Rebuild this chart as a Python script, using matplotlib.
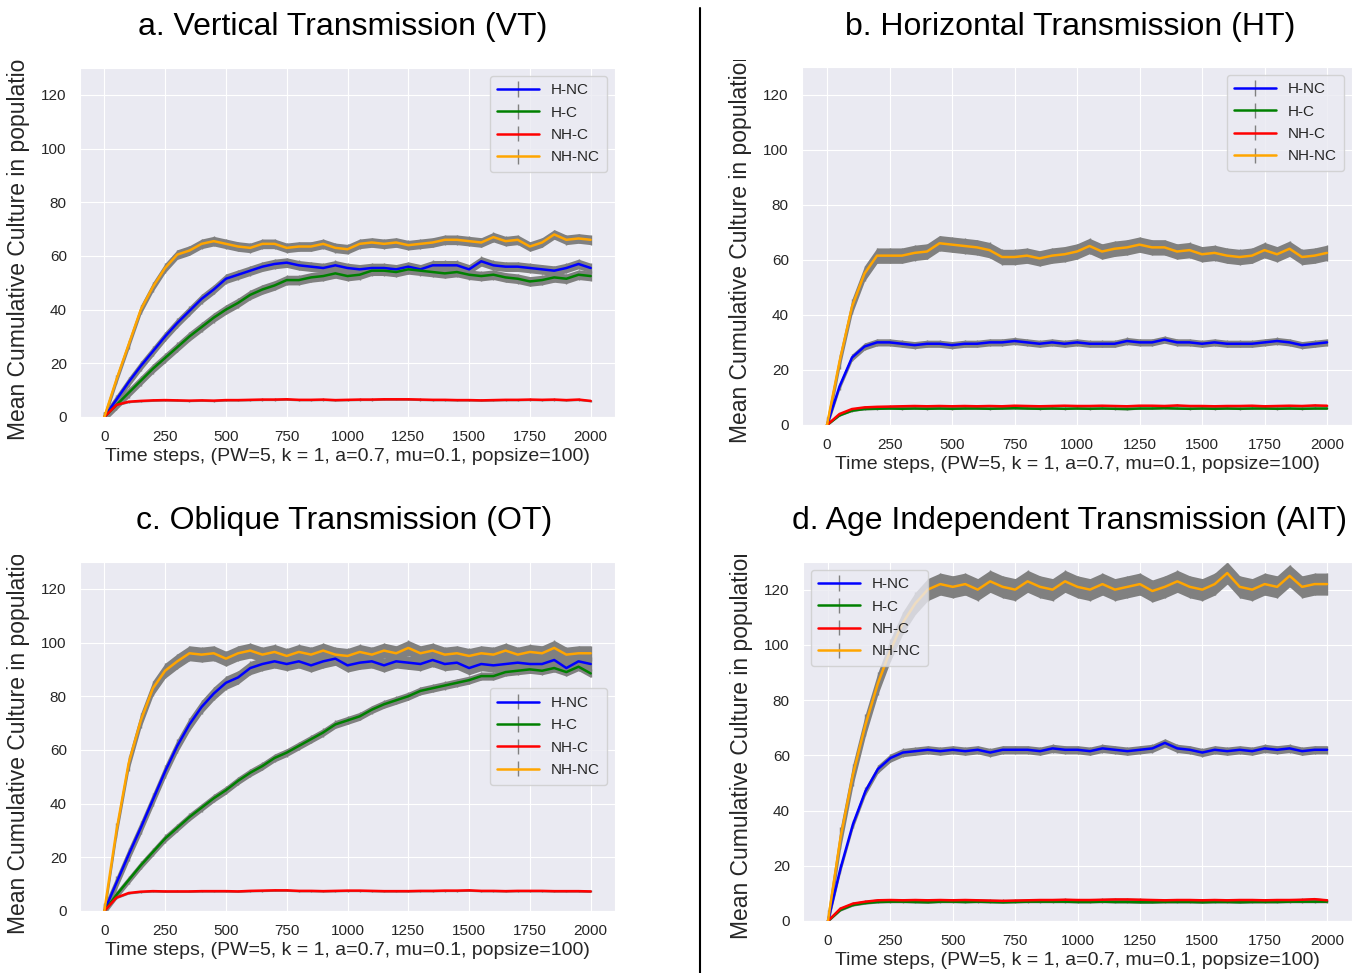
import numpy as np
import matplotlib.pyplot as plt
import seaborn as sns
from matplotlib.lines import Line2D
from matplotlib.transforms import Bbox, TransformedBbox

sns.set_style("darkgrid")
plt.rcParams["font.family"] = ["Liberation Sans", "DejaVu Sans"]

# ---- data (one value every 50 time steps) --------------------------------
STEPS = np.arange(0, 2001, 50)
SERIES = ["H-NC", "H-C", "NH-C", "NH-NC"]
COLORS = ["blue", "green", "red", "orange"]
XLABEL = "Time steps, (PW=5, k = 1, a=0.7, mu=0.1, popsize=100)"
YLABEL = "Mean Cumulative Culture in population"

# a. vertical transmission
vt_hnc = [0, 6.5, 13, 19, 24.5, 30, 35, 39.5, 44, 47.5, 51.5,
          53, 54.5, 56, 57, 57.5, 56.5, 56, 55.5, 56.5, 55.5,
          55, 55.5, 55.5, 55, 56, 55, 56.5, 56.5, 56.5, 55,
          58, 56.5, 56, 56, 55.5, 55, 54.5, 55.5, 57, 55.5]
vt_hc = [0, 4.5, 9, 13.5, 18, 22, 26, 30, 33.5, 37, 40,
         42.5, 45.5, 47.5, 49, 51, 51, 52, 52.5, 53.5, 52.5,
         53, 54.5, 54.5, 54, 55, 54.5, 54, 53.5, 54, 53,
         52.5, 53, 52, 51.5, 50.5, 51, 52, 51.5, 53, 52.5]
vt_nhc = [0, 4.5, 5.7, 6.0, 6.2, 6.3, 6.2, 6.1, 6.2, 6.1, 6.3,
          6.3, 6.4, 6.5, 6.5, 6.6, 6.4, 6.4, 6.5, 6.3, 6.4,
          6.5, 6.5, 6.6, 6.6, 6.6, 6.5, 6.4, 6.4, 6.3, 6.3,
          6.2, 6.3, 6.4, 6.4, 6.5, 6.4, 6.5, 6.3, 6.5, 6.0]
vt_nhnc = [0, 14, 27, 40, 48.5, 55.5, 60.5, 62, 64.5, 65.5, 64.5,
           63.5, 63, 64.5, 64.5, 63, 63.5, 63.5, 64.5, 63, 62.5,
           64.5, 65, 64.5, 65, 64, 64.5, 65, 66, 66, 65.5,
           65, 67, 65.5, 66, 63.5, 65, 68, 66, 66.5, 66]
vt_err = [1.8, 1.8, 0.4, 1.8]

# b. horizontal transmission
ht_hnc = [0, 14, 24.5, 28.5, 30, 30, 29.5, 29, 29.5, 29.5, 29,
          29.5, 29.5, 30, 30, 30.5, 30, 29.5, 30, 29.5, 30,
          29.5, 29.5, 29.5, 30.5, 30, 30, 31, 30, 30, 29.5,
          30, 29.5, 29.5, 29.5, 30, 30.5, 30, 29, 29.5, 30]
ht_hc = [0, 3.5, 5.2, 5.8, 5.9, 6.0, 5.9, 6.0, 5.9, 6.0, 5.9,
         6.0, 6.0, 5.9, 6.0, 6.1, 6.0, 5.9, 6.0, 5.9, 6.0,
         5.9, 6.0, 5.9, 5.8, 6.0, 6.0, 6.1, 6.0, 5.9, 6.0,
         5.9, 6.0, 5.9, 6.0, 6.0, 5.9, 6.0, 5.9, 6.0, 6.0]
ht_nhc = [0, 4.0, 5.8, 6.4, 6.6, 6.7, 6.8, 6.9, 6.8, 6.9, 6.8,
          6.9, 6.8, 6.9, 6.8, 7.0, 6.9, 6.8, 6.9, 7.0, 6.9,
          6.9, 7.0, 6.9, 6.8, 7.0, 7.0, 6.9, 7.1, 6.9, 6.9,
          6.8, 6.9, 6.9, 7.0, 6.8, 6.9, 7.0, 6.9, 7.1, 7.0]
ht_nhnc = [0, 23, 43, 55, 61.5, 61.5, 61.5, 62.5, 63, 66, 65.5,
           65, 64.5, 63.5, 61, 61, 61.5, 60.5, 61.5, 62, 63,
           65, 63, 64, 64.5, 65.5, 64.5, 64.5, 63, 63.5, 62,
           62.5, 61.5, 61, 61.5, 63.5, 62, 64, 61, 61.5, 62.5]
ht_err = [1.3, 0.3, 0.4, 2.8]

# c. oblique transmission
ot_hnc = [0, 10.5, 21, 31, 41.5, 52, 61.5, 69.5, 76, 81, 85,
          87, 90.5, 92, 93, 92, 93, 91.5, 93, 94, 91.5,
          92.5, 93, 91.5, 93, 92.5, 92, 93.5, 92, 92.5, 90.5,
          92, 91.5, 92, 92.5, 92, 92, 93.5, 90.5, 93, 92]
ot_hc = [0, 6, 11.5, 17, 22, 27, 31, 35, 38.5, 42, 45,
         48.5, 51.5, 54, 57, 59, 61.5, 64, 66.5, 69.5, 71,
         72.5, 75, 77, 78.5, 80, 82, 83, 84, 85, 86,
         87.5, 87.5, 89, 89.5, 90, 89.5, 90.5, 89, 91, 88.5]
ot_nhc = [0, 5.0, 6.7, 7.2, 7.4, 7.3, 7.3, 7.3, 7.4, 7.4, 7.4,
          7.3, 7.5, 7.6, 7.7, 7.7, 7.5, 7.5, 7.4, 7.5, 7.6,
          7.6, 7.5, 7.4, 7.4, 7.4, 7.5, 7.5, 7.6, 7.6, 7.7,
          7.5, 7.5, 7.4, 7.5, 7.5, 7.5, 7.4, 7.4, 7.4, 7.3]
ot_nhnc = [0, 30, 55, 71, 83, 89.5, 93, 96, 95.5, 96, 94,
           96, 97, 95.5, 96.5, 95, 96.5, 95.5, 97, 95.5, 95,
           96.5, 95.5, 97, 96, 98, 96, 97, 95.5, 96, 95,
           96, 95.5, 97, 95.5, 96.5, 96, 98, 95.5, 96, 96]
ot_err = [2.5, 1.5, 0.4, 2.8]

# d. age independent transmission
ait_hnc = [0, 19, 35, 47, 55, 59, 61, 61.5, 62, 61.5, 62,
           61.5, 62, 61, 62, 62, 62, 61.5, 62.5, 62, 62,
           61.5, 62.5, 62, 61.5, 62, 62.5, 64.5, 62.5, 62, 61,
           62, 61.5, 62, 61.5, 62.5, 62, 62.5, 61.5, 62, 62]
ait_hc = [0, 4.0, 5.8, 6.5, 6.9, 7.0, 7.0, 6.9, 6.8, 7.0, 7.0,
          6.9, 7.0, 6.9, 6.8, 6.9, 7.0, 7.0, 7.0, 7.0, 6.9,
          6.9, 7.0, 6.9, 6.9, 6.8, 6.8, 6.9, 6.9, 6.9, 6.8,
          6.9, 6.9, 6.8, 6.9, 6.9, 6.9, 7.0, 7.0, 7.0, 7.0]
ait_nhc = [0, 4.5, 6.3, 7.0, 7.5, 7.6, 7.5, 7.6, 7.5, 7.6, 7.5,
           7.6, 7.5, 7.4, 7.3, 7.4, 7.5, 7.6, 7.6, 7.7, 7.6,
           7.6, 7.7, 7.8, 7.8, 7.7, 7.6, 7.5, 7.6, 7.6, 7.5,
           7.6, 7.5, 7.6, 7.6, 7.5, 7.6, 7.6, 7.7, 7.9, 7.5]
ait_nhnc = [0, 30, 53, 71, 86, 98, 108, 115, 120, 122, 121,
            122, 120, 123, 121, 120, 123, 121, 120, 123, 121,
            120, 122, 120, 121, 122, 119.5, 121, 123, 121, 120,
            122, 126, 121, 120, 122, 121, 125, 121, 122, 122]
ait_err = [1.5, 0.4, 0.5, 4.0]

# ---- layout (pixel boxes measured on the 1362x973 original) --------------
W, H = 1362, 973
panels = [
    ("a. Vertical Transmission (VT)", [vt_hnc, vt_hc, vt_nhc, vt_nhnc], vt_err,
     (80, 68, 615, 417), 343, 27, "upper right", 60),
    ("b. Horizontal Transmission (HT)", [ht_hnc, ht_hc, ht_nhc, ht_nhnc], ht_err,
     (802, 67, 1352, 425), 1070, 27, "upper right", 60),
    ("c. Oblique Transmission (OT)", [ot_hnc, ot_hc, ot_nhc, ot_nhnc], ot_err,
     (80, 562, 615, 911), 344, 521, "center right", 555),
    ("d. Age Independent Transmission (AIT)", [ait_hnc, ait_hc, ait_nhc, ait_nhnc], ait_err,
     (803, 562, 1352, 921), 1070, 521, "upper left", 555),
]

fig = plt.figure(figsize=(W / 100, H / 100), dpi=100)

for title, ys, errs, (l, t, r, b), tx, ty, loc, clip_y in panels:
    ax = fig.add_axes([l / W, 1 - b / H, (r - l) / W, (b - t) / H])
    for name, col, y, e in zip(SERIES, COLORS, ys, errs):
        y = np.asarray(y, dtype=float)
        ax.fill_between(STEPS, y - e, y + e, color="gray", lw=0)
        ax.errorbar(STEPS, y, yerr=e, color=col, ecolor="gray",
                    elinewidth=1, lw=1.8, label=name)
    ax.set_xlim(-100, 2100)
    ax.set_ylim(0, 130)
    ax.set_xticks(np.arange(0, 2001, 250))
    ax.set_yticks(np.arange(0, 121, 20))
    ax.tick_params(labelsize=11, pad=6)
    ax.set_xlabel(XLABEL, fontsize=14, labelpad=3)
    ax.set_ylabel(YLABEL, fontsize=16.5, labelpad=8)
    # the original panels were cropped at the top, cutting the y label
    lab = ax.yaxis.label
    lab.set_clip_box(TransformedBbox(Bbox.from_extents(0, 0, 1, 1 - clip_y / H),
                                     fig.transFigure))
    lab.set_clip_on(True)
    ax.legend(loc=loc, fontsize=11, handlelength=2.7, framealpha=0.8,
              borderpad=0.5, labelspacing=0.55)
    fig.text(tx / W, 1 - ty / H, title, ha="center", va="center",
             fontsize=23, color="black")

# divider between the two columns
fig.add_artist(Line2D([700 / W, 700 / W], [0, 1 - 8 / H], color="black",
                      lw=1.5, transform=fig.transFigure))

fig.savefig("out.png", dpi=100)
